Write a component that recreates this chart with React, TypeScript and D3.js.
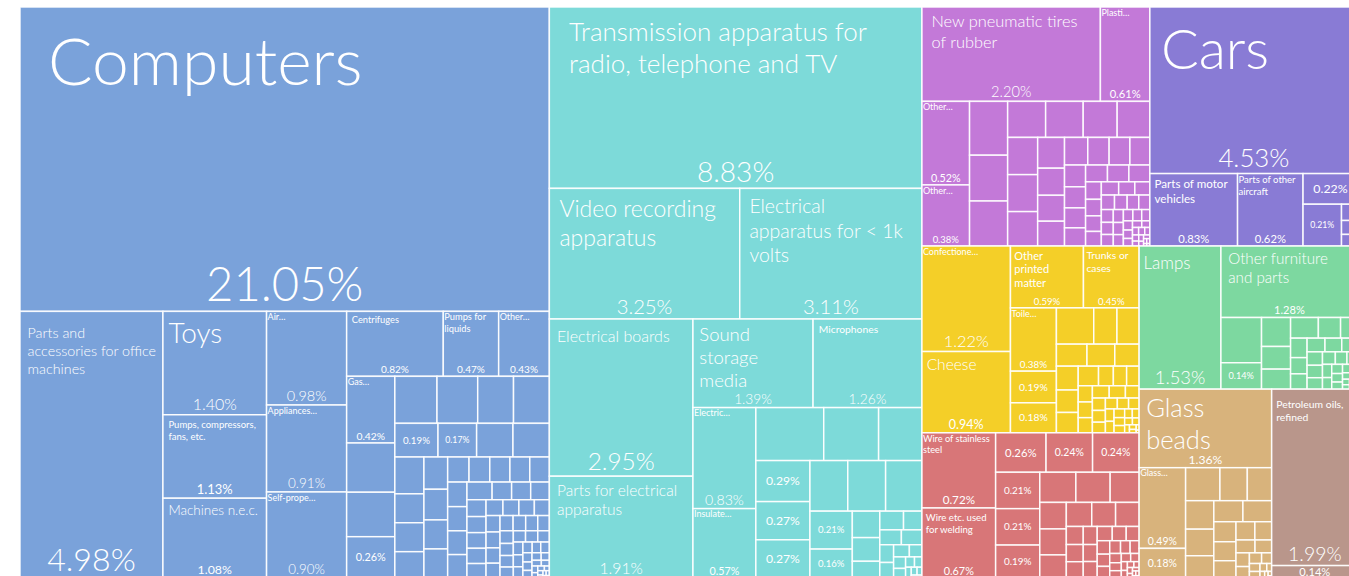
import React from "react";
import * as d3 from "d3";

type Item = [string | null, number];

// label: string = title + share, "" = share only, null = no label
const GROUP_NAMES = [
  "Machinery",
  "Electronics",
  "Rubber and plastics",
  "Vehicles",
  "Consumer goods",
  "Metals",
  "Furniture and lighting",
  "Glass",
  "Mineral products",
];

const machinery: Item[] = [
  ["Computers", 21.05], ["Parts and accessories for office machines", 4.98], ["Toys", 1.4],
  ["Pumps, compressors, fans, etc.", 1.13], ["Machines n.e.c.", 1.08], ["Air…", 0.98],
  ["Appliances…", 0.91], ["Self-prope…", 0.9], ["Centrifuges", 0.82], ["Pumps for liquids", 0.47],
  ["Other…", 0.43], ["Gas…", 0.42], [null, 0.31], [null, 0.28], ["", 0.26], [null, 0.259],
  [null, 0.25], [null, 0.22], [null, 0.22], ["", 0.19], ["", 0.17], [null, 0.16], [null, 0.16],
  [null, 0.14], [null, 0.11], [null, 0.11], [null, 0.1], [null, 0.1], [null, 0.095], [null, 0.09],
  [null, 0.09], [null, 0.07], [null, 0.068], [null, 0.066], [null, 0.065], [null, 0.064],
  [null, 0.062], [null, 0.061], [null, 0.06], [null, 0.059], [null, 0.058],
  [null, 0.045], [null, 0.044], [null, 0.043], [null, 0.042], [null, 0.04], [null, 0.039],
  [null, 0.038], [null, 0.036], [null, 0.035], [null, 0.033], [null, 0.032], [null, 0.031],
  [null, 0.03], [null, 0.029], [null, 0.028], [null, 0.027], [null, 0.026], [null, 0.025],
  [null, 0.024], [null, 0.023], [null, 0.022], [null, 0.021], [null, 0.02], [null, 0.019],
  [null, 0.018], [null, 0.018], [null, 0.017], [null, 0.016], [null, 0.015], [null, 0.014],
  [null, 0.013], [null, 0.012], [null, 0.012], [null, 0.011], [null, 0.01], [null, 0.009],
  [null, 0.009], [null, 0.008], [null, 0.007], [null, 0.006], [null, 0.005], [null, 0.004],
  [null, 0.004], [null, 0.003], [null, 0.003], [null, 0.002], [null, 0.002], [null, 0.002],
  [null, 0.001], [null, 0.001],
];

const electronics: Item[] = [
  ["Transmission apparatus for radio, telephone and TV", 8.83], ["Video recording apparatus", 3.25],
  ["Electrical apparatus for < 1k volts", 3.11], ["Electrical boards", 2.95],
  ["Parts for electrical apparatus", 1.91], ["Sound storage media", 1.39], ["Microphones", 1.26],
  ["Electric…", 0.83], ["Insulate…", 0.57], [null, 0.47], [null, 0.38], [null, 0.3],
  ["", 0.29], ["", 0.27], ["", 0.27], [null, 0.25], [null, 0.25], [null, 0.24], ["", 0.21],
  ["", 0.16], [null, 0.095], [null, 0.085], [null, 0.06], [null, 0.058], [null, 0.045],
  [null, 0.042], [null, 0.04], [null, 0.032], [null, 0.028], [null, 0.025], [null, 0.02],
  [null, 0.018], [null, 0.015], [null, 0.012], [null, 0.01], [null, 0.008], [null, 0.006],
  [null, 0.005], [null, 0.004],
];

const rubberPlastics: Item[] = [
  ["New pneumatic tires of rubber", 2.2], ["Plasti…", 0.61], ["Other…", 0.52], ["Other…", 0.38],
  [null, 0.268], [null, 0.228], [null, 0.224], [null, 0.179], [null, 0.177], [null, 0.16],
  [null, 0.154], [null, 0.146], [null, 0.145], [null, 0.135], [null, 0.108], [null, 0.095],
  [null, 0.091], [null, 0.087], [null, 0.084], [null, 0.077], [null, 0.075], [null, 0.072],
  [null, 0.06], [null, 0.058], [null, 0.055], [null, 0.05], [null, 0.048], [null, 0.047],
  [null, 0.046], [null, 0.036], [null, 0.034], [null, 0.032], [null, 0.03], [null, 0.03],
  [null, 0.028], [null, 0.026], [null, 0.025], [null, 0.024], [null, 0.022], [null, 0.021],
  [null, 0.02], [null, 0.019], [null, 0.018], [null, 0.017], [null, 0.016], [null, 0.015],
  [null, 0.014], [null, 0.013], [null, 0.012], [null, 0.011], [null, 0.01], [null, 0.009],
  [null, 0.008], [null, 0.007], [null, 0.006], [null, 0.006], [null, 0.005], [null, 0.005],
  [null, 0.004], [null, 0.004], [null, 0.003], [null, 0.003], [null, 0.002], [null, 0.002],
  [null, 0.001], [null, 0.001],
];

const vehicles: Item[] = [
  ["Cars", 4.53], ["Parts of motor vehicles", 0.83], ["Parts of other aircraft", 0.62],
  ["", 0.22], ["", 0.21], [null, 0.035], [null, 0.03], [null, 0.025],
];

const consumerGoods: Item[] = [
  ["Confectione…", 1.22], ["Cheese", 0.94], ["Other printed matter", 0.59], ["Trunks or cases", 0.45],
  ["Toile…", 0.38], ["", 0.19], ["", 0.18], [null, 0.177], [null, 0.11], [null, 0.105],
  [null, 0.088], [null, 0.08], [null, 0.07], [null, 0.068], [null, 0.064], [null, 0.058],
  [null, 0.052], [null, 0.038], [null, 0.034], [null, 0.032], [null, 0.03],
  [null, 0.029], [null, 0.028], [null, 0.027], [null, 0.026], [null, 0.022],
  [null, 0.021], [null, 0.02], [null, 0.018], [null, 0.017], [null, 0.016], [null, 0.015],
  [null, 0.014], [null, 0.013], [null, 0.012], [null, 0.011], [null, 0.01], [null, 0.009],
  [null, 0.008], [null, 0.007], [null, 0.006], [null, 0.005], [null, 0.004], [null, 0.003],
  [null, 0.002], [null, 0.001],
];

const metals: Item[] = [
  ["Wire of stainless steel", 0.724], ["Wire etc. used for welding", 0.674], ["", 0.26], ["", 0.24],
  ["", 0.24], ["", 0.21], ["", 0.21], ["", 0.19], [null, 0.142], [null, 0.135], [null, 0.114],
  [null, 0.092], [null, 0.09], [null, 0.08], [null, 0.08], [null, 0.075], [null, 0.074],
  [null, 0.04], [null, 0.038], [null, 0.036],
  [null, 0.033], [null, 0.031], [null, 0.03], [null, 0.028], [null, 0.026], [null, 0.024],
  [null, 0.022], [null, 0.02], [null, 0.019], [null, 0.018], [null, 0.016], [null, 0.015],
  [null, 0.014], [null, 0.012], [null, 0.011], [null, 0.01], [null, 0.009],
  [null, 0.007], [null, 0.006], [null, 0.005], [null, 0.004], [null, 0.004], [null, 0.003],
  [null, 0.003], [null, 0.002], [null, 0.002], [null, 0.001], [null, 0.001],
];

const furniture: Item[] = [
  ["Lamps", 1.53], ["Other furniture and parts", 1.28], [null, 0.24], ["", 0.14], [null, 0.11],
  [null, 0.086], [null, 0.076], [null, 0.075], [null, 0.06], [null, 0.047], [null, 0.042],
  [null, 0.035], [null, 0.033], [null, 0.032], [null, 0.03], [null, 0.029], [null, 0.027],
  [null, 0.025], [null, 0.023], [null, 0.021], [null, 0.019], [null, 0.018], [null, 0.016],
  [null, 0.014], [null, 0.013], [null, 0.012], [null, 0.01], [null, 0.009], [null, 0.008],
  [null, 0.007], [null, 0.006], [null, 0.005], [null, 0.004], [null, 0.003], [null, 0.003],
  [null, 0.002], [null, 0.002], [null, 0.001],
];

const glass: Item[] = [
  ["Glass beads", 1.36], ["Glass…", 0.49], ["", 0.18], [null, 0.148], [null, 0.118],
  [null, 0.105], [null, 0.105], [null, 0.098], [null, 0.082], [null, 0.08], [null, 0.079],
  [null, 0.058], [null, 0.055], [null, 0.05], [null, 0.045], [null, 0.04], [null, 0.032],
  [null, 0.028], [null, 0.024], [null, 0.02], [null, 0.017], [null, 0.014], [null, 0.011],
  [null, 0.009], [null, 0.007], [null, 0.005], [null, 0.004], [null, 0.003], [null, 0.002],
  [null, 0.001],
];

const mineral: Item[] = [["Petroleum oils, refined", 1.99], ["", 0.14]];

const GROUP_ITEMS: Item[][] = [
  machinery, electronics, rubberPlastics, vehicles, consumerGoods, metals, furniture, glass, mineral,
];

// ---- styles (kept apart from data) ----
const GROUP_COLORS = [
  "#7AA2DA", "#7DDAD9", "#C379D8", "#897BD5", "#F4CF28", "#D87678", "#7DD8A0", "#D8B37C", "#B9968B",
];

type TitleStyle = { size: number; compact?: boolean; lines?: string[] };
const TITLE_STYLE: Record<string, TitleStyle> = {
  "Computers": { size: 66 },
  "Parts and accessories for office machines": { size: 14.3, lines: ["Parts and", "accessories for office", "machines"] },
  "Toys": { size: 28 },
  "Pumps, compressors, fans, etc.": { size: 9.5, lines: ["Pumps, compressors,", "fans, etc."] },
  "Machines n.e.c.": { size: 13.5, lines: ["Machines n.e.c."] },
  "Centrifuges": { size: 9.3 },
  "Pumps for liquids": { size: 9.3, compact: true, lines: ["Pumps for", "liquids"] },
  "Transmission apparatus for radio, telephone and TV": { size: 26, lines: ["Transmission apparatus for", "radio, telephone and TV"] },
  "Video recording apparatus": { size: 23, lines: ["Video recording", "apparatus"] },
  "Electrical apparatus for < 1k volts": { size: 19.5, lines: ["Electrical", "apparatus for < 1k", "volts"] },
  "Electrical boards": { size: 16, lines: ["Electrical boards"] },
  "Parts for electrical apparatus": { size: 15.5, lines: ["Parts for electrical", "apparatus"] },
  "Sound storage media": { size: 18.5, lines: ["Sound", "storage", "media"] },
  "Microphones": { size: 10.3 },
  "New pneumatic tires of rubber": { size: 16.4, lines: ["New pneumatic tires", "of rubber"] },
  "Cars": { size: 56 },
  "Parts of motor vehicles": { size: 11.6, lines: ["Parts of motor", "vehicles"] },
  "Parts of other aircraft": { size: 9.5, compact: true, lines: ["Parts of other", "aircraft"] },
  "Cheese": { size: 15.5 },
  "Other printed matter": { size: 11, lines: ["Other", "printed", "matter"] },
  "Trunks or cases": { size: 10.3, lines: ["Trunks or", "cases"] },
  "Wire of stainless steel": { size: 9.2, compact: true, lines: ["Wire of stainless", "steel"] },
  "Wire etc. used for welding": { size: 9.6, lines: ["Wire etc. used", "for welding"] },
  "Lamps": { size: 17 },
  "Other furniture and parts": { size: 15.2, lines: ["Other furniture", "and parts"] },
  "Glass beads": { size: 25.5, lines: ["Glass", "beads"] },
  "Petroleum oils, refined": { size: 10.4, lines: ["Petroleum oils,", "refined"] },
};

const FONT = "Lato, 'Noto Sans', sans-serif";
const VIEW_W = 1349;
const VIEW_H = 576;
const X0 = 20;
const Y0 = 7;
const TM_W = 1338;
const TM_H = 571;

let ctx: CanvasRenderingContext2D | null = null;
function measure(text: string, size: number, weight: number): number {
  if (!ctx) ctx = document.createElement("canvas").getContext("2d");
  if (!ctx) return text.length * size * 0.5;
  ctx.font = `${weight} ${size}px Lato`;
  return ctx.measureText(text).width;
}

function wrap(text: string, size: number, weight: number, maxW: number): string[] {
  const words = text.split(" ");
  const lines: string[] = [];
  let cur = "";
  for (const w of words) {
    const t = cur ? cur + " " + w : w;
    if (!cur || measure(t, size, weight) <= maxW) cur = t;
    else {
      lines.push(cur);
      cur = w;
    }
  }
  if (cur) lines.push(cur);
  return lines;
}

const weightFor = (s: number) => (s >= 13 ? 300 : 400);

export default function App() {
  const data = {
    name: "root",
    children: GROUP_NAMES.map((g, gi) => ({
      name: g,
      gi,
      children: GROUP_ITEMS[gi].map(([label, value], j) => ({ name: `${g}-${j}`, label, value, gi })),
    })),
  };

  const root = d3
    .hierarchy<any>(data)
    .sum((d: any) => (d.children ? 0 : d.value));
  d3.treemap<any>().tile(d3.treemapSquarify.ratio(1)).size([TM_W, TM_H]).round(false)(root);
  const leaves = root.leaves() as d3.HierarchyRectangularNode<any>[];

  return (
    <svg
      width={VIEW_W}
      height={VIEW_H}
      style={{ position: "absolute", left: 0, top: 0, display: "block", background: "#fff" }}
    >
      <g transform={`translate(${X0},${Y0})`}>
        {leaves.map((d, i) => (
          <rect
            key={"r" + i}
            x={d.x0}
            y={d.y0}
            width={Math.max(0, d.x1 - d.x0)}
            height={Math.max(0, d.y1 - d.y0)}
            fill={GROUP_COLORS[d.data.gi]}
            stroke="#ffffff"
            strokeOpacity={0.9}
            strokeWidth={1.5}
          />
        ))}
        {leaves.map((d, i) => {
          const label: string | null = d.data.label;
          if (label === null) return null;
          const w = d.x1 - d.x0;
          const h = d.y1 - d.y0;
          const share = `${d.data.value.toFixed(2)}%`;
          if (label === "") {
            const fs = Math.min(0.225 * w, 0.9 * h);
            return (
              <text
                key={"s" + i}
                x={d.x0 + w / 2}
                y={d.y0 + h / 2 + 0.35 * fs}
                textAnchor="middle"
                fill="#fff"
                fontFamily={FONT}
                fontWeight={weightFor(fs)}
                fontSize={fs}
              >
                {share}
              </text>
            );
          }
          const st: TitleStyle = TITLE_STYLE[label] ?? { size: 9, compact: true };
          const ts = st.size;
          const tw = weightFor(ts);
          const padX = st.compact ? 1 : 0.053 * w;
          const lines = st.lines ?? wrap(label, ts, tw, w - 2 * padX + 2);
          const firstBase = st.compact ? d.y0 + 1 + 0.85 * ts : d.y0 + 0.05 * h + 0.95 * ts;
          const ss = Math.min(0.155 * h, 0.225 * w);
          return (
            <g key={"t" + i}>
              <text fill="#fff" fontFamily={FONT} fontWeight={tw} fontSize={ts}>
                {lines.map((ln, k) => (
                  <tspan key={k} x={d.x0 + padX} y={firstBase + k * 1.25 * ts}>
                    {ln}
                  </tspan>
                ))}
              </text>
              <text
                x={d.x0 + w / 2}
                y={d.y1 - (0.18 * ss + 1.5)}
                textAnchor="middle"
                fill="#fff"
                fontFamily={FONT}
                fontWeight={weightFor(ss)}
                fontSize={ss}
              >
                {share}
              </text>
            </g>
          );
        })}
      </g>
    </svg>
  );
}
